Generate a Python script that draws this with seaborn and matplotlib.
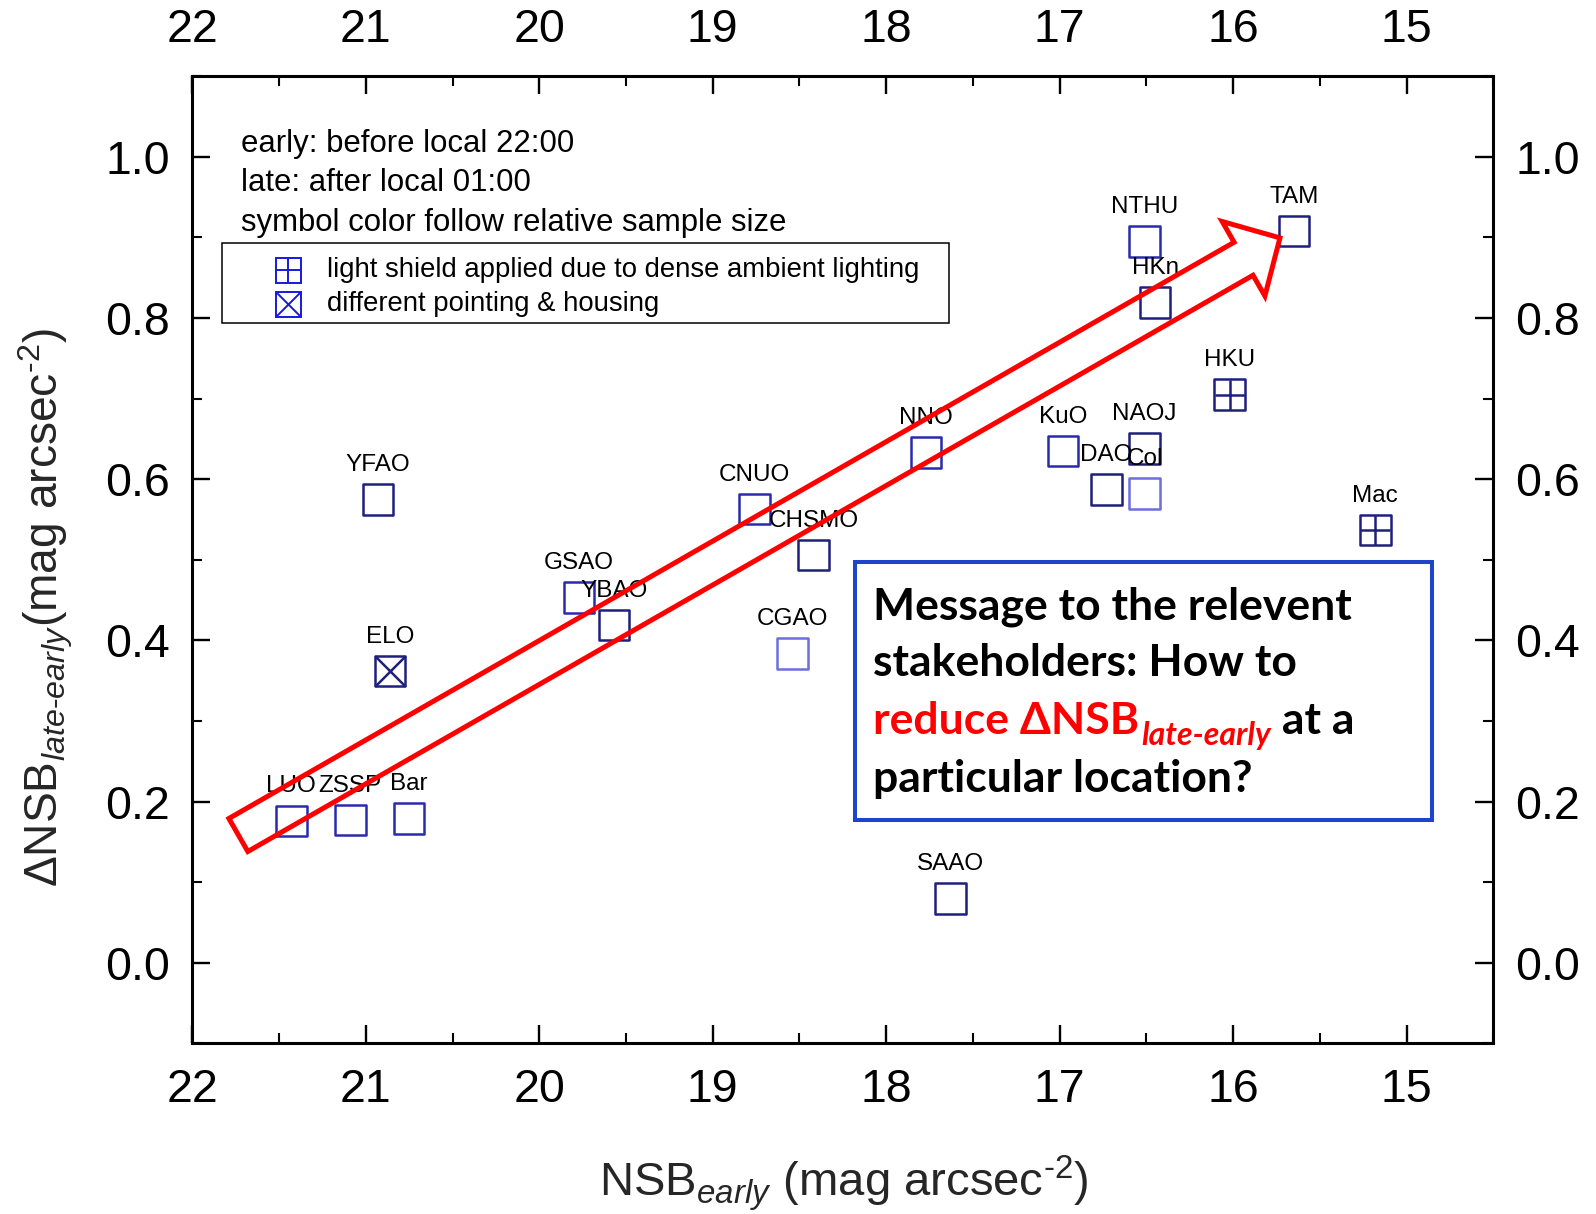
import matplotlib
matplotlib.use("Agg")
import matplotlib.pyplot as plt
from matplotlib.ticker import MultipleLocator, FormatStrFormatter
from matplotlib.patches import Rectangle
import pandas as pd
import seaborn as sns

# ---- data -------------------------------------------------------------
sites = ["LUO", "ZSSP", "Bar", "YFAO", "ELO", "GSAO", "YBAO", "CNUO", "CHSMO",
         "CGAO", "NNO", "SAAO", "KuO", "DAO", "NAOJ", "Col", "NTHU", "HKn",
         "HKU", "TAM", "Mac"]
nsb_early = [21.43, 21.09, 20.75, 20.93, 20.86, 19.77, 19.57, 18.76, 18.42,
             18.54, 17.77, 17.63, 16.98, 16.73, 16.51, 16.51, 16.51, 16.45,
             16.02, 15.65, 15.18]
delta_nsb = [0.176, 0.177, 0.179, 0.575, 0.362, 0.453, 0.419, 0.563, 0.506,
             0.384, 0.633, 0.080, 0.635, 0.587, 0.638, 0.582, 0.895, 0.819,
             0.705, 0.908, 0.537]
# relative sample size -> symbol colour
sample_size = ["mid", "mid", "mid", "large", "large", "mid", "large", "mid",
               "large", "small", "mid", "large", "mid", "large", "large",
               "small", "mid", "large", "large", "large", "large"]
# instrument setup -> symbol decoration
setup = ["plain", "plain", "plain", "plain", "pointing", "plain", "plain",
         "plain", "plain", "plain", "plain", "plain", "plain", "plain",
         "plain", "plain", "plain", "plain", "shield", "plain", "shield"]

size_colors = {"large": "#1f1f7d", "mid": "#2a2aae", "small": "#6d6de0"}
setup_inner = {"shield": "+", "pointing": "x"}

info_lines = ["early: before local 22:00",
              "late: after local 01:00",
              "symbol color follow relative sample size"]
legend_labels = ["light shield applied due to dense ambient lighting",
                 "different pointing & housing"]

x_ticks = [22, 21, 20, 19, 18, 17, 16, 15]
y_ticks = [0.0, 0.2, 0.4, 0.6, 0.8, 1.0]

# trend arrow (tail -> head), in data units
arrow_tail = (21.735, 0.1586)
arrow_head = (15.730, 0.8995)

df = pd.DataFrame({"site": sites, "nsb_early": nsb_early, "delta": delta_nsb,
                   "size": sample_size, "setup": setup})

# ---- style ------------------------------------------------------------
sns.set_theme(style="white")
plt.rcParams["font.family"] = ["Liberation Sans", "DejaVu Sans"]
plt.rcParams["mathtext.fontset"] = "custom"
plt.rcParams["mathtext.rm"] = "Liberation Sans"
plt.rcParams["mathtext.it"] = "Liberation Sans:italic"
plt.rcParams["mathtext.bf"] = "Liberation Sans:bold"

fig = plt.figure(figsize=(15.96, 12.14), dpi=100)
ax = fig.add_axes([0.12055, 0.14053, 0.81510, 0.79662])

MS = 22.0      # marker side, points
LW = 1.8

for (sz, st), sub in df.groupby(["size", "setup"]):
    col = size_colors[sz]
    sns.scatterplot(data=sub, x="nsb_early", y="delta", marker="s", s=MS ** 2,
                    color=col, facecolor="none", edgecolor=col, linewidth=LW,
                    legend=False, ax=ax, zorder=3)
    if st in setup_inner:
        sns.scatterplot(data=sub, x="nsb_early", y="delta",
                        marker=setup_inner[st], s=MS ** 2, color=col,
                        linewidth=LW, legend=False, ax=ax, zorder=3)

for _, r in df.iterrows():
    ax.annotate(r["site"], (r["nsb_early"], r["delta"]), xytext=(0, 20.5),
                textcoords="offset points", ha="center", va="baseline",
                fontsize=17.5, color="black", zorder=4)

# ---- axes -------------------------------------------------------------
ax.set_xlim(22, 14.5)
ax.set_ylim(-0.1, 1.1)
ax.xaxis.set_minor_locator(MultipleLocator(0.5))
ax.yaxis.set_minor_locator(MultipleLocator(0.1))
ax.set_xticks(x_ticks)
ax.set_yticks(y_ticks)
ax.xaxis.set_major_formatter(FormatStrFormatter("%d"))
ax.yaxis.set_major_formatter(FormatStrFormatter("%.1f"))
ax.tick_params(which="both", direction="in", top=True, right=True,
               bottom=True, left=True, labeltop=True, labelright=True,
               color="black", labelcolor="black", labelsize=33.5)
ax.tick_params(which="major", length=13, width=1.7)
ax.tick_params(which="minor", length=7, width=1.5)
ax.tick_params(axis="x", which="major", pad=17.5)
ax.tick_params(axis="y", which="major", pad=16)
for sp in ax.spines.values():
    sp.set_linewidth(2.2)
    sp.set_color("black")

xl = ax.set_xlabel(r"NSB$_{\mathit{early}}$ (mag arcsec$^{\mathrm{‐2}}$)",
                   fontsize=34)
xl.set_va("baseline")
ax.xaxis.set_label_coords(0.5008, -0.1578)
yl = ax.set_ylabel(r"ΔNSB$_{\mathit{late‐early}}$(mag arcsec$^{\mathrm{‐2}}$)",
                   fontsize=33.2)
yl.set_va("center")
yl.set_ha("center")
ax.yaxis.set_label_coords(-0.1127, 0.4505)

# ---- notes and symbol key --------------------------------------------
for y, line in zip([0.9305, 0.8895, 0.8484], info_lines):
    ax.text(0.0374, y, line, transform=ax.transAxes, va="center", ha="left",
            fontsize=22.4, color="black")

ax.add_patch(Rectangle((0.02275, 0.7449), 0.5589, 0.0827,
                       transform=ax.transAxes, fill=False, ec="black",
                       lw=1.1, zorder=5))
key_color = "#1818e0"
for y, inner, txt in zip([0.7998, 0.7646], ["+", "x"], legend_labels):
    ax.plot([0.0735], [y], marker="s", ms=18, mfc="none", mec=key_color,
            mew=1.4, ls="none", transform=ax.transAxes, zorder=6)
    ax.plot([0.0735], [y], marker=inner, ms=18, mec=key_color, mew=1.4,
            ls="none", transform=ax.transAxes, zorder=6)
    ax.text(0.1035, y, txt, transform=ax.transAxes, va="center", ha="left",
            fontsize=19.8, color="black")

# ---- trend arrow ------------------------------------------------------
ax.annotate("", xy=arrow_head, xytext=arrow_tail,
            arrowprops=dict(arrowstyle="simple,head_length=3.02,"
                                       "head_width=6.18,tail_width=2.74",
                            mutation_scale=10, fc="none", ec="#ff0000",
                            lw=3.6, shrinkA=0, shrinkB=0, joinstyle="miter"),
            zorder=7)

# ---- message box ------------------------------------------------------
ax.add_patch(Rectangle((0.5093, 0.2310), 0.4436, 0.2668,
                       transform=ax.transAxes, fill=False, ec="#1f44cc",
                       lw=2.9, zorder=8))
msg = dict(family=["Lato", "DejaVu Sans"], weight="bold", fontsize=32)
ax.text(0.5232, 0.4388, "Message to the relevent", transform=ax.transAxes,
        va="baseline", ha="left", color="black", zorder=9, **msg)
ax.text(0.5232, 0.3799, "stakeholders: How to", transform=ax.transAxes,
        va="baseline", ha="left", color="black", zorder=9, **msg)
r1 = ax.text(0.5232, 0.3199, "reduce ΔNSB", transform=ax.transAxes,
             va="baseline", ha="left", color="#ff0000", zorder=9, **msg)
r2 = ax.annotate("late-early", xy=(1, 0), xycoords=r1, xytext=(1.5, -6.5),
                 textcoords="offset points", ha="left", va="bottom",
                 color="#ff0000", fontsize=23, style="italic", weight="bold",
                 family=["Lato", "DejaVu Sans"], zorder=9)
ax.annotate(" at a", xy=(1, 0), xycoords=(r2, r1), ha="left", va="bottom",
            color="black", zorder=9, **msg)
ax.text(0.5232, 0.2600, "particular location?", transform=ax.transAxes,
        va="baseline", ha="left", color="black", zorder=9, **msg)

fig.savefig("out.png", dpi=100, facecolor="white")
